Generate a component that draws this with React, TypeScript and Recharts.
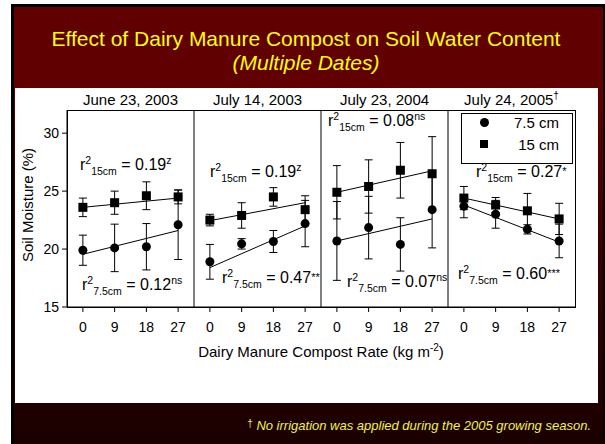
import React from 'react';
import { ComposedChart, Scatter, Line, XAxis, YAxis, ErrorBar } from 'recharts';

// compost rates (kg m-2) and the two ends of each fitted line
const rates = [0, 9, 18, 27];
const fitRates = [0, 27];
const yTicks = [15, 20, 25, 30];

const panelTitles = ['June 23, 2003', 'July 14, 2003', 'July 23, 2004', 'July 24, 2005'];

// 15 cm depth (squares)
const jun03Deep = [23.6, 24.0, 24.6, 24.5];
const jun03DeepErr = [0.8, 1.0, 1.2, 0.6];
const jul03Deep = [22.5, 22.9, 24.5, 23.4];
const jul03DeepErr = [0.5, 1.1, 0.8, 1.2];
const jul04Deep = [24.9, 25.4, 26.8, 26.5];
const jul04DeepErr = [2.3, 2.3, 2.4, 3.2];
const jul05Deep = [24.4, 23.8, 23.3, 22.6];
const jul05DeepErr = [1.0, 0.65, 1.5, 1.35];

// 7.5 cm depth (circles)
const jun03Shallow = [19.9, 20.1, 20.2, 22.1];
const jun03ShallowErr = [1.3, 2.05, 2.0, 3.0];
const jul03Shallow = [18.9, 20.45, 20.65, 22.2];
const jul03ShallowErr = [1.5, 0.45, 0.95, 2.0];
const jul04Shallow = [20.7, 21.85, 20.4, 23.4];
const jul04ShallowErr = [3.4, 2.7, 2.3, 3.3];
const jul05Shallow = [23.7, 23.0, 21.7, 20.7];
const jul05ShallowErr = [1.0, 1.2, 0.4, 1.45];

// regression line end values
const deepFits = [[23.6, 24.4], [22.45, 24.0], [24.9, 26.75], [24.4, 22.6]];
const shallowFits = [[19.55, 21.6], [18.4, 22.0], [20.7, 22.6], [23.8, 20.6]];

const r2Deep = ['0.19', '0.19', '0.08', '0.27'];
const sigDeep = ['z', 'z', 'ns', '*'];
const r2Shallow = ['0.12', '0.47', '0.07', '0.60'];
const sigShallow = ['ns', '**', 'ns', '***'];

const deepSeries = [jun03Deep, jul03Deep, jul04Deep, jul05Deep];
const deepErrs = [jun03DeepErr, jul03DeepErr, jul04DeepErr, jul05DeepErr];
const shallowSeries = [jun03Shallow, jul03Shallow, jul04Shallow, jul05Shallow];
const shallowErrs = [jun03ShallowErr, jul03ShallowErr, jul04ShallowErr, jul05ShallowErr];

const FONT = 'Arial, "Liberation Sans", Helvetica, sans-serif';
const PLOT_TOP = 110;
const PLOT_H = 197;
const PANEL_W = 127;
const FIRST_LEFT = 67;

// where the r² labels sit, per panel
const deepLabelPos = [[80, 165], [210, 172], [328, 121], [476, 172]];
const shallowLabelPos = [[82, 285], [222, 278], [347, 282], [458, 274]];

const rows = (vals: number[], errs: number[]) => vals.map((y, i) => ({ x: rates[i], y, e: errs[i] }));
const fitRows = (vals: number[]) => vals.map((y, i) => ({ x: fitRates[i], y }));

const circleShape = (p: any) => <circle cx={p.cx} cy={p.cy} r={4.5} fill="#000" />;
const squareShape = (p: any) => <rect x={p.cx - 4.5} y={p.cy - 4.5} width={9} height={9} fill="#000" />;

const sup: React.CSSProperties = { fontSize: 10.5, position: 'relative', top: -6 };
const starSup: React.CSSProperties = { fontSize: 11, position: 'relative', top: -2 };
const sub: React.CSSProperties = { fontSize: 10.5, position: 'relative', top: 5 };

const R2 = ({ pos, depth, value, sig }: { pos: number[]; depth: string; value: string; sig: string }) => (
  <div style={{ position: 'absolute', left: pos[0], top: pos[1] - 10, fontSize: 16, lineHeight: '20px', whiteSpace: 'nowrap', fontFamily: FONT }}>
    r<span style={sup}>2</span><span style={sub}>{depth}</span> = {value}<span style={sig.startsWith('*') ? starSup : sup}>{sig}</span>
  </div>
);

const Panel = ({ idx }: { idx: number }) => {
  const first = idx === 0;
  const axisW = first ? 40 : 6;
  const left = FIRST_LEFT + idx * PANEL_W - axisW;
  return (
    <div style={{ position: 'absolute', left, top: PLOT_TOP - 1 }}>
      <ComposedChart width={axisW + PANEL_W + 1} height={PLOT_H + 1 + 40} margin={{ top: 1, right: 1, bottom: 0, left: 0 }}>
        <XAxis
          dataKey="x"
          type="number"
          domain={[-4.5, 31.5]}
          ticks={rates}
          allowDataOverflow
          height={40}
          tickSize={5}
          tickMargin={10}
          stroke="#000"
          tick={{ fontSize: 14, fill: '#000', fontFamily: FONT }}
        />
        <YAxis
          yAxisId="main"
          dataKey="y"
          type="number"
          domain={[15, 32]}
          ticks={yTicks}
          allowDataOverflow
          width={axisW}
          tickSize={5}
          tickMargin={3}
          stroke="#000"
          tick={first ? { fontSize: 14, fill: '#000', fontFamily: FONT } : false}
        />
        <YAxis
          yAxisId="inner"
          type="number"
          domain={[15, 32]}
          ticks={yTicks}
          allowDataOverflow
          mirror
          axisLine={false}
          tickSize={4}
          stroke="#000"
          tick={false}
        />
        <Line yAxisId="main" data={fitRows(deepFits[idx])} dataKey="y" stroke="#000" strokeWidth={1} dot={false} isAnimationActive={false} />
        <Line yAxisId="main" data={fitRows(shallowFits[idx])} dataKey="y" stroke="#000" strokeWidth={1} dot={false} isAnimationActive={false} />
        <Scatter yAxisId="main" data={rows(deepSeries[idx], deepErrs[idx])} dataKey="y" shape={squareShape} isAnimationActive={false}>
          <ErrorBar dataKey="e" direction="y" width={4} stroke="#000" strokeWidth={1} isAnimationActive={false} />
        </Scatter>
        <Scatter yAxisId="main" data={rows(shallowSeries[idx], shallowErrs[idx])} dataKey="y" shape={circleShape} isAnimationActive={false}>
          <ErrorBar dataKey="e" direction="y" width={4} stroke="#000" strokeWidth={1} isAnimationActive={false} />
        </Scatter>
      </ComposedChart>
    </div>
  );
};

const abs = (left: number, top: number, width: number, height: number, extra: React.CSSProperties = {}): React.CSSProperties => ({
  position: 'absolute', left, top, width, height, ...extra,
});

export default function App() {
  return (
    <div style={{ position: 'absolute', left: 0, top: 0, width: 605, height: 444, background: '#fff', fontFamily: FONT, overflow: 'hidden' }}>
      <div style={abs(11, 4, 594, 440, { background: '#000' })} />
      <div style={abs(14, 7, 589, 437, { background: 'linear-gradient(to bottom, #600000 0%, #600000 20%, #3a0000 55%, #1a0000 100%)' })} />
      <div style={abs(15, 88, 583, 315, { background: '#fff' })} />

      <div style={abs(11, 26, 590, 26, { color: '#ffff00', fontSize: 21, textAlign: 'center', lineHeight: '26px' })}>
        Effect of Dairy Manure Compost on Soil Water Content
      </div>
      <div style={abs(11, 50, 590, 26, { color: '#ffff00', fontSize: 21, textAlign: 'center', lineHeight: '26px', fontStyle: 'italic' })}>
        (Multiple Dates)
      </div>

      {panelTitles.map((t, i) => (
        <div key={t} style={abs(FIRST_LEFT + i * PANEL_W, 91, PANEL_W, 18, { fontSize: 15, textAlign: 'center', lineHeight: '18px', whiteSpace: 'nowrap' })}>
          {t}{i === 3 ? <span style={{ fontSize: 10, position: 'relative', top: -6 }}>†</span> : null}
        </div>
      ))}

      {panelTitles.map((t, i) => <Panel key={t} idx={i} />)}

      <div style={abs(FIRST_LEFT, PLOT_TOP, PANEL_W * 4 + 1, PLOT_H + 1, { border: '1px solid #000', boxSizing: 'border-box', pointerEvents: 'none' })} />

      <div style={abs(461, 113, 112, 51, { border: '1px solid #000', boxSizing: 'border-box', fontSize: 15, lineHeight: '22px' })}>
        <div style={{ position: 'absolute', left: 18, top: 4, width: 9, height: 9, borderRadius: '50%', background: '#000' }} />
        <div style={{ position: 'absolute', right: 13, top: -2 }}>7.5 cm</div>
        <div style={{ position: 'absolute', left: 18, top: 26, width: 8, height: 8, background: '#000' }} />
        <div style={{ position: 'absolute', right: 13, top: 20 }}>15 cm</div>
      </div>

      {panelTitles.map((t, i) => (
        <React.Fragment key={t}>
          <R2 pos={deepLabelPos[i]} depth="15cm" value={r2Deep[i]} sig={sigDeep[i]} />
          <R2 pos={shallowLabelPos[i]} depth="7.5cm" value={r2Shallow[i]} sig={sigShallow[i]} />
        </React.Fragment>
      ))}

      <div style={abs(20, 195, 160, 20, { fontSize: 15, lineHeight: '20px', textAlign: 'center', transform: 'rotate(-90deg)', whiteSpace: 'nowrap', left: 28 - 80 })}>
        Soil Moisture (%)
      </div>
      <div style={abs(FIRST_LEFT, 342, PANEL_W * 4, 20, { fontSize: 15, lineHeight: '20px', textAlign: 'center', whiteSpace: 'nowrap' })}>
        Dairy Manure Compost Rate (kg m<span style={{ fontSize: 10, position: 'relative', top: -6 }}>-2</span>)
      </div>

      <div style={abs(20, 417, 571, 18, { color: '#f2f247', fontSize: 13, lineHeight: '18px', textAlign: 'right', fontStyle: 'italic', whiteSpace: 'nowrap' })}>
        <span style={{ fontSize: 10, position: 'relative', top: -3, fontStyle: 'normal' }}>†</span> No irrigation was applied during the 2005 growing season.
      </div>
    </div>
  );
}
